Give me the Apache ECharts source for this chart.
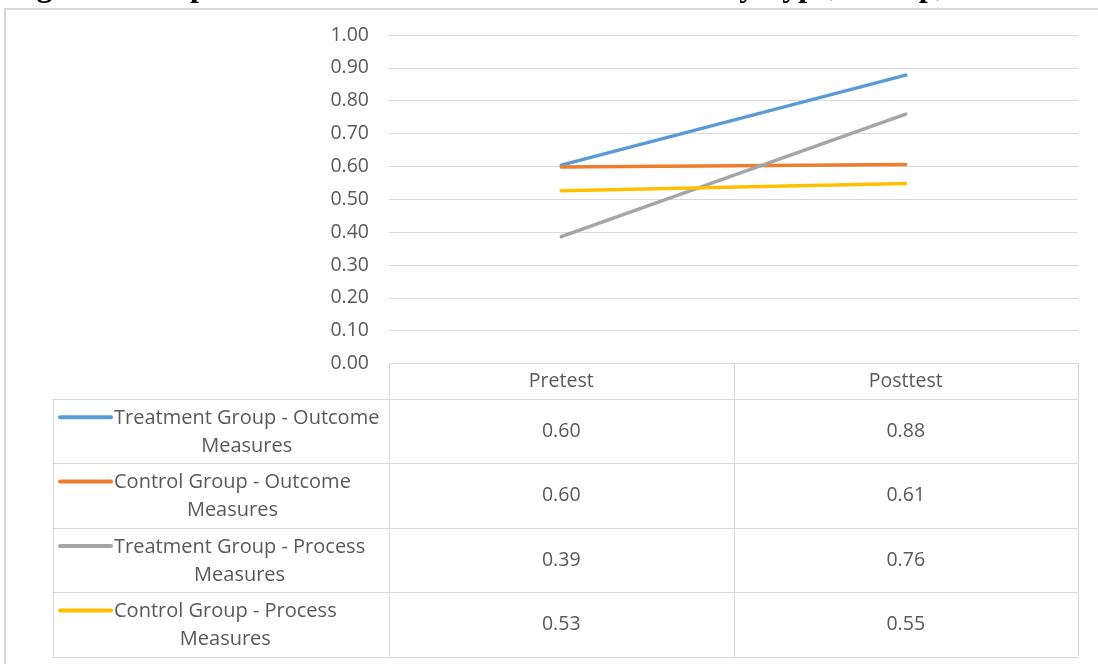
<!DOCTYPE html>
<html>
<head>
<meta charset="utf-8">
<script src="https://cdn.jsdelivr.net/npm/echarts@6/dist/echarts.min.js"></script>
<style>
html,body{margin:0;padding:0;background:#fff;}
#c{width:1098px;height:664px;}
</style>
</head>
<body>
<div id="c"></div>
<script>
// ---- data ----
var titleText = 'Figure 4: Proportion of Performance Measures Met by Type, Group, and Time';
var categories = ['Pretest', 'Posttest'];
var seriesNames = [
  'Treatment Group - Outcome Measures',
  'Control Group - Outcome Measures',
  'Treatment Group - Process Measures',
  'Control Group - Process Measures'
];
var legendLines = [
  ['Treatment Group - Outcome', 'Measures'],
  ['Control Group - Outcome', 'Measures'],
  ['Treatment Group - Process', 'Measures'],
  ['Control Group - Process', 'Measures']
];
var treatmentOutcome = [0.604, 0.878];
var controlOutcome   = [0.598, 0.606];
var treatmentProcess = [0.386, 0.759];
var controlProcess   = [0.526, 0.548];
var yTicks = [0, 0.1, 0.2, 0.3, 0.4, 0.5, 0.6, 0.7, 0.8, 0.9, 1.0];

var seriesValues = [treatmentOutcome, controlOutcome, treatmentProcess, controlProcess];
var colors = ['#5B9BD5', '#ED7D31', '#A5A5A5', '#FFC000'];

var FONT = '"Open Sans", "Liberation Sans", sans-serif';
var textColor = '#595959';
var gridColor = '#D9D9D9';

var chart = echarts.init(document.getElementById('c'), null, {renderer: 'canvas'});

var option = {
  animation: false,
  backgroundColor: '#fff',
  grid: {left: 389, right: 20, top: 35, bottom: 300.5, containLabel: false, outerBoundsMode: 'none'},
  xAxis: {
    type: 'category',
    data: categories,
    boundaryGap: true,
    axisLine: {show: false},
    axisTick: {show: false},
    axisLabel: {margin: 8, lineHeight: 20, fontSize: 19.5, fontFamily: FONT, color: textColor},
    splitLine: {show: false}
  },
  yAxis: {
    type: 'value',
    min: yTicks[0],
    max: yTicks[yTicks.length - 1],
    interval: 0.1,
    axisLine: {show: false},
    axisTick: {show: false},
    axisLabel: {
      margin: 20,
      fontSize: 19.5,
      fontFamily: FONT,
      color: textColor,
      formatter: function (v) { return v.toFixed(2); }
    },
    splitLine: {lineStyle: {color: gridColor, width: 1}}
  },
  series: seriesNames.map(function (name, i) {
    return {
      name: name,
      type: 'line',
      data: seriesValues[i],
      symbol: 'none',
      color: colors[i],
      lineStyle: {width: 3.5, color: colors[i], cap: 'round', join: 'round'}
    };
  })
};
chart.setOption(option);

// ---- data table drawn from the same arrays, positioned via the axes ----
var c0 = chart.convertToPixel({xAxisIndex: 0}, categories[0]);
var c1 = chart.convertToPixel({xAxisIndex: 0}, categories[1]);
var band = c1 - c0;
var colEdges = [c0 - band / 2, c0 + band / 2, c1 + band / 2];
var tableTop = chart.convertToPixel({yAxisIndex: 0}, 0);
var headerH = 35.5;
var rowH = 64.4;
var tableLeft = 52.5;
var rowTops = [];
for (var r = 0; r <= seriesNames.length; r++) rowTops.push(tableTop + headerH + r * rowH);
var tableBottom = rowTops[rowTops.length - 1];

var ctx = document.createElement('canvas').getContext('2d');
ctx.font = '20px ' + FONT;

function px(v) { return Math.round(v) + 0.5; }
var els = [];
// outer chart border
els.push({type: 'rect', shape: {x: 5, y: 9, width: 1200, height: 800},
  style: {fill: 'none', stroke: gridColor, lineWidth: 2}, silent: true});
// title (mostly cut off at the top, as in the reference)
els.push({type: 'text', x: 8, y: -12.5, silent: true,
  style: {text: titleText, font: 'bold 32px "Liberation Serif", "Times New Roman", serif',
    fill: '#000', textAlign: 'left', verticalAlign: 'middle'}});

function hline(x1, x2, y) {
  els.push({type: 'line', silent: true, shape: {x1: x1, y1: px(y), x2: x2, y2: px(y)},
    style: {stroke: gridColor, lineWidth: 1}});
}
function vline(x, y1, y2) {
  els.push({type: 'line', silent: true, shape: {x1: px(x), y1: y1, x2: px(x), y2: y2},
    style: {stroke: gridColor, lineWidth: 1}});
}
// horizontal lines
rowTops.forEach(function (y) { hline(tableLeft, colEdges[2], y); });
// vertical lines
vline(tableLeft, rowTops[0], tableBottom);
colEdges.forEach(function (x) { vline(x, tableTop, tableBottom); });

// rows
seriesNames.forEach(function (name, i) {
  var top = rowTops[i];
  var mid = top + rowH / 2;
  var lines = legendLines[i];
  var maxW = 0;
  lines.forEach(function (l) { maxW = Math.max(maxW, ctx.measureText(l).width); });
  var textX = 114;
  // legend key
  els.push({type: 'line', silent: true,
    shape: {x1: 60, y1: mid - 14, x2: 111, y2: mid - 14},
    style: {stroke: colors[i], lineWidth: 4, lineCap: 'round'}});
  els.push({type: 'text', silent: true, x: textX + maxW / 2, y: mid + 1,
    style: {text: lines.join('\n'), font: '20px ' + FONT, fill: textColor,
      textAlign: 'center', verticalAlign: 'middle', lineHeight: 28}});
  // values
  [c0, c1].forEach(function (cx, j) {
    els.push({type: 'text', silent: true, x: cx, y: mid,
      style: {text: seriesValues[i][j].toFixed(2), font: '19.5px ' + FONT, fill: textColor,
        textAlign: 'center', verticalAlign: 'middle'}});
  });
});

chart.setOption({graphic: {elements: els}});
</script>
</body>
</html>
